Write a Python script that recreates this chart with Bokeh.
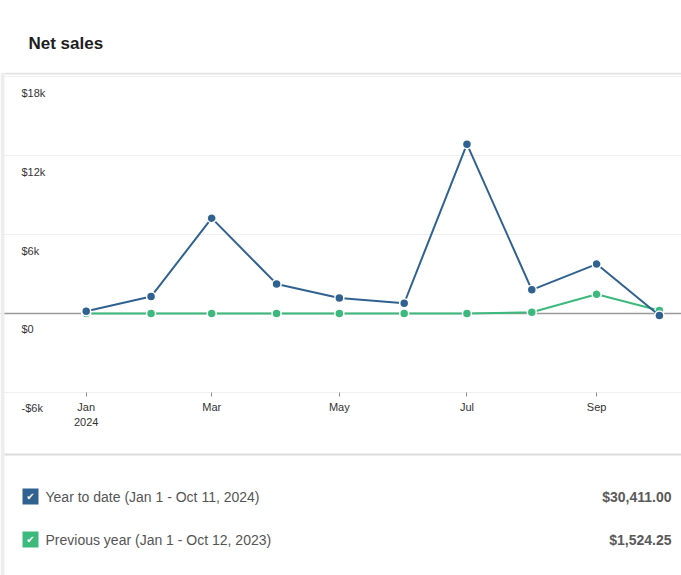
import pandas as pd
from bokeh.plotting import figure
from bokeh.models import (ColumnDataSource, FixedTicker, DatetimeTickFormatter, Span,
                          Label, BoxAnnotation, Range1d)
from bokeh.embed import file_html
from bokeh.resources import INLINE

# ---- data ----
months = ["2024-01-01", "2024-02-01", "2024-03-01", "2024-04-01", "2024-05-01",
          "2024-06-01", "2024-07-01", "2024-08-01", "2024-09-01", "2024-10-01"]
ytd_sales = [170, 1290, 7250, 2250, 1180, 780, 12880, 1800, 3760, -150]
prev_year_sales = [0, 0, 0, 0, 0, 0, 0, 100, 1460, 230]
y_ticks = [-6000, 0, 6000, 12000, 18000]
y_tick_labels = ["-$6k", "$0", "$6k", "$12k", "$18k"]
x_tick_dates = ["2024-01-01", "2024-03-01", "2024-05-01", "2024-07-01", "2024-09-01"]
series_names = ["Year to date (Jan 1 - Oct 11, 2024)", "Previous year (Jan 1 - Oct 12, 2023)"]
series_totals = ["$30,411.00", "$1,524.25"]
series_colors = ["#2f6291", "#3cb97c"]

FONT = "Liberation Sans"
W, H = 681, 575
TOP = 72  # height of the header band above the plotting frame

dates = pd.to_datetime(months)
start = dates[0]
x_lo = start - pd.Timedelta(days=40.97)
x_hi = start + pd.Timedelta(days=284.56)

p = figure(width=W, height=H, x_axis_type="datetime", y_axis_location=None,
           output_backend="svg", toolbar_location=None,
           min_border_left=0, min_border_right=0, min_border_top=TOP, min_border_bottom=0,
           x_range=Range1d(x_lo, x_hi), y_range=Range1d(-19924, 18327))
p.outline_line_color = None
p.background_fill_color = "white"
p.border_fill_color = "white"

# title
p.title.text = "Net sales"
p.title.text_font = FONT
p.title.text_font_size = "17px"
p.title.text_font_style = "bold"
p.title.text_color = "#1e1e1e"
p.title.align = "left"
p.title.offset = 28
p.title.standoff = 40

# grid
p.xgrid.visible = False
p.ygrid.ticker = FixedTicker(ticks=y_ticks)
p.ygrid.grid_line_color = "#efefef"
p.ygrid.grid_line_width = 1

# x axis, pinned to the lowest grid line
tick_ms = [pd.Timestamp(d).value / 1e6 for d in x_tick_dates]
xa = p.xaxis[0]
xa.fixed_location = y_ticks[0]
xa.ticker = FixedTicker(ticks=tick_ms)
xa.formatter = DatetimeTickFormatter(months="%b", days="%b", context="%Y", context_which="start")
xa.axis_line_color = None
xa.major_tick_line_color = "#8a8a8a"
xa.major_tick_out = 4
xa.major_tick_in = 0
xa.minor_tick_line_color = None
xa.major_label_standoff = 5
xa.major_label_text_font = FONT
xa.major_label_text_font_size = "11px"
xa.major_label_text_color = "#333333"

# zero line
p.add_layout(Span(location=0, dimension="width", line_color="#9a9a9a", line_width=1.5,
                  level="underlay"))

# y tick labels inside the chart, under each grid line
for v, t in zip(y_ticks, y_tick_labels):
    p.add_layout(Label(x=21, x_units="screen", y=v, y_units="data", text=t,
                       text_baseline="middle", y_offset=-16, text_font=FONT,
                       text_font_size="11px", text_color="#333333"))

# series
src_ytd = ColumnDataSource(dict(x=dates, y=ytd_sales))
src_prev = ColumnDataSource(dict(x=dates, y=prev_year_sales))
for src, col in ((src_prev, series_colors[1]), (src_ytd, series_colors[0])):
    p.line("x", "y", source=src, line_color=col, line_width=2)
    p.scatter("x", "y", source=src, size=9, fill_color=col, line_color="white",
              line_width=1.5)

def screen_box(left, right, bottom, top, color):
    return BoxAnnotation(left=left, right=right, bottom=bottom, top=top,
                         left_units="screen", right_units="screen",
                         bottom_units="screen", top_units="screen",
                         fill_color=color, fill_alpha=1, line_color=None)

frame_h = H - TOP
# card edges and dividers
p.add_layout(screen_box(0, 4, 0, frame_h, "#ededed"))
p.add_layout(screen_box(4, W, frame_h - 2, frame_h, "#e2e2e2"))
p.add_layout(screen_box(4, W, 120, 122, "#dcdcdc"))

# legend rows
row_y = [79, 36]
for yy, name, total, col in zip(row_y, series_names, series_totals, series_colors):
    p.add_layout(screen_box(22, 38, yy - 8, yy + 8, col))
    p.add_layout(Label(x=30, y=yy, x_units="screen", y_units="screen", text="\u2714",
                       text_align="center", text_baseline="middle", text_color="white",
                       text_font="DejaVu Sans", text_font_size="10px"))
    p.add_layout(Label(x=45, y=yy, x_units="screen", y_units="screen", text=name,
                       text_baseline="middle", text_font=FONT, text_font_size="14px",
                       text_color="#555555"))
    p.add_layout(Label(x=671, y=yy, x_units="screen", y_units="screen", text=total,
                       text_align="right", text_baseline="middle", text_font=FONT,
                       text_font_size="14px", text_font_style="bold",
                       text_color="#5a5a5a"))

open("out.html", "w").write(file_html(p, INLINE))
